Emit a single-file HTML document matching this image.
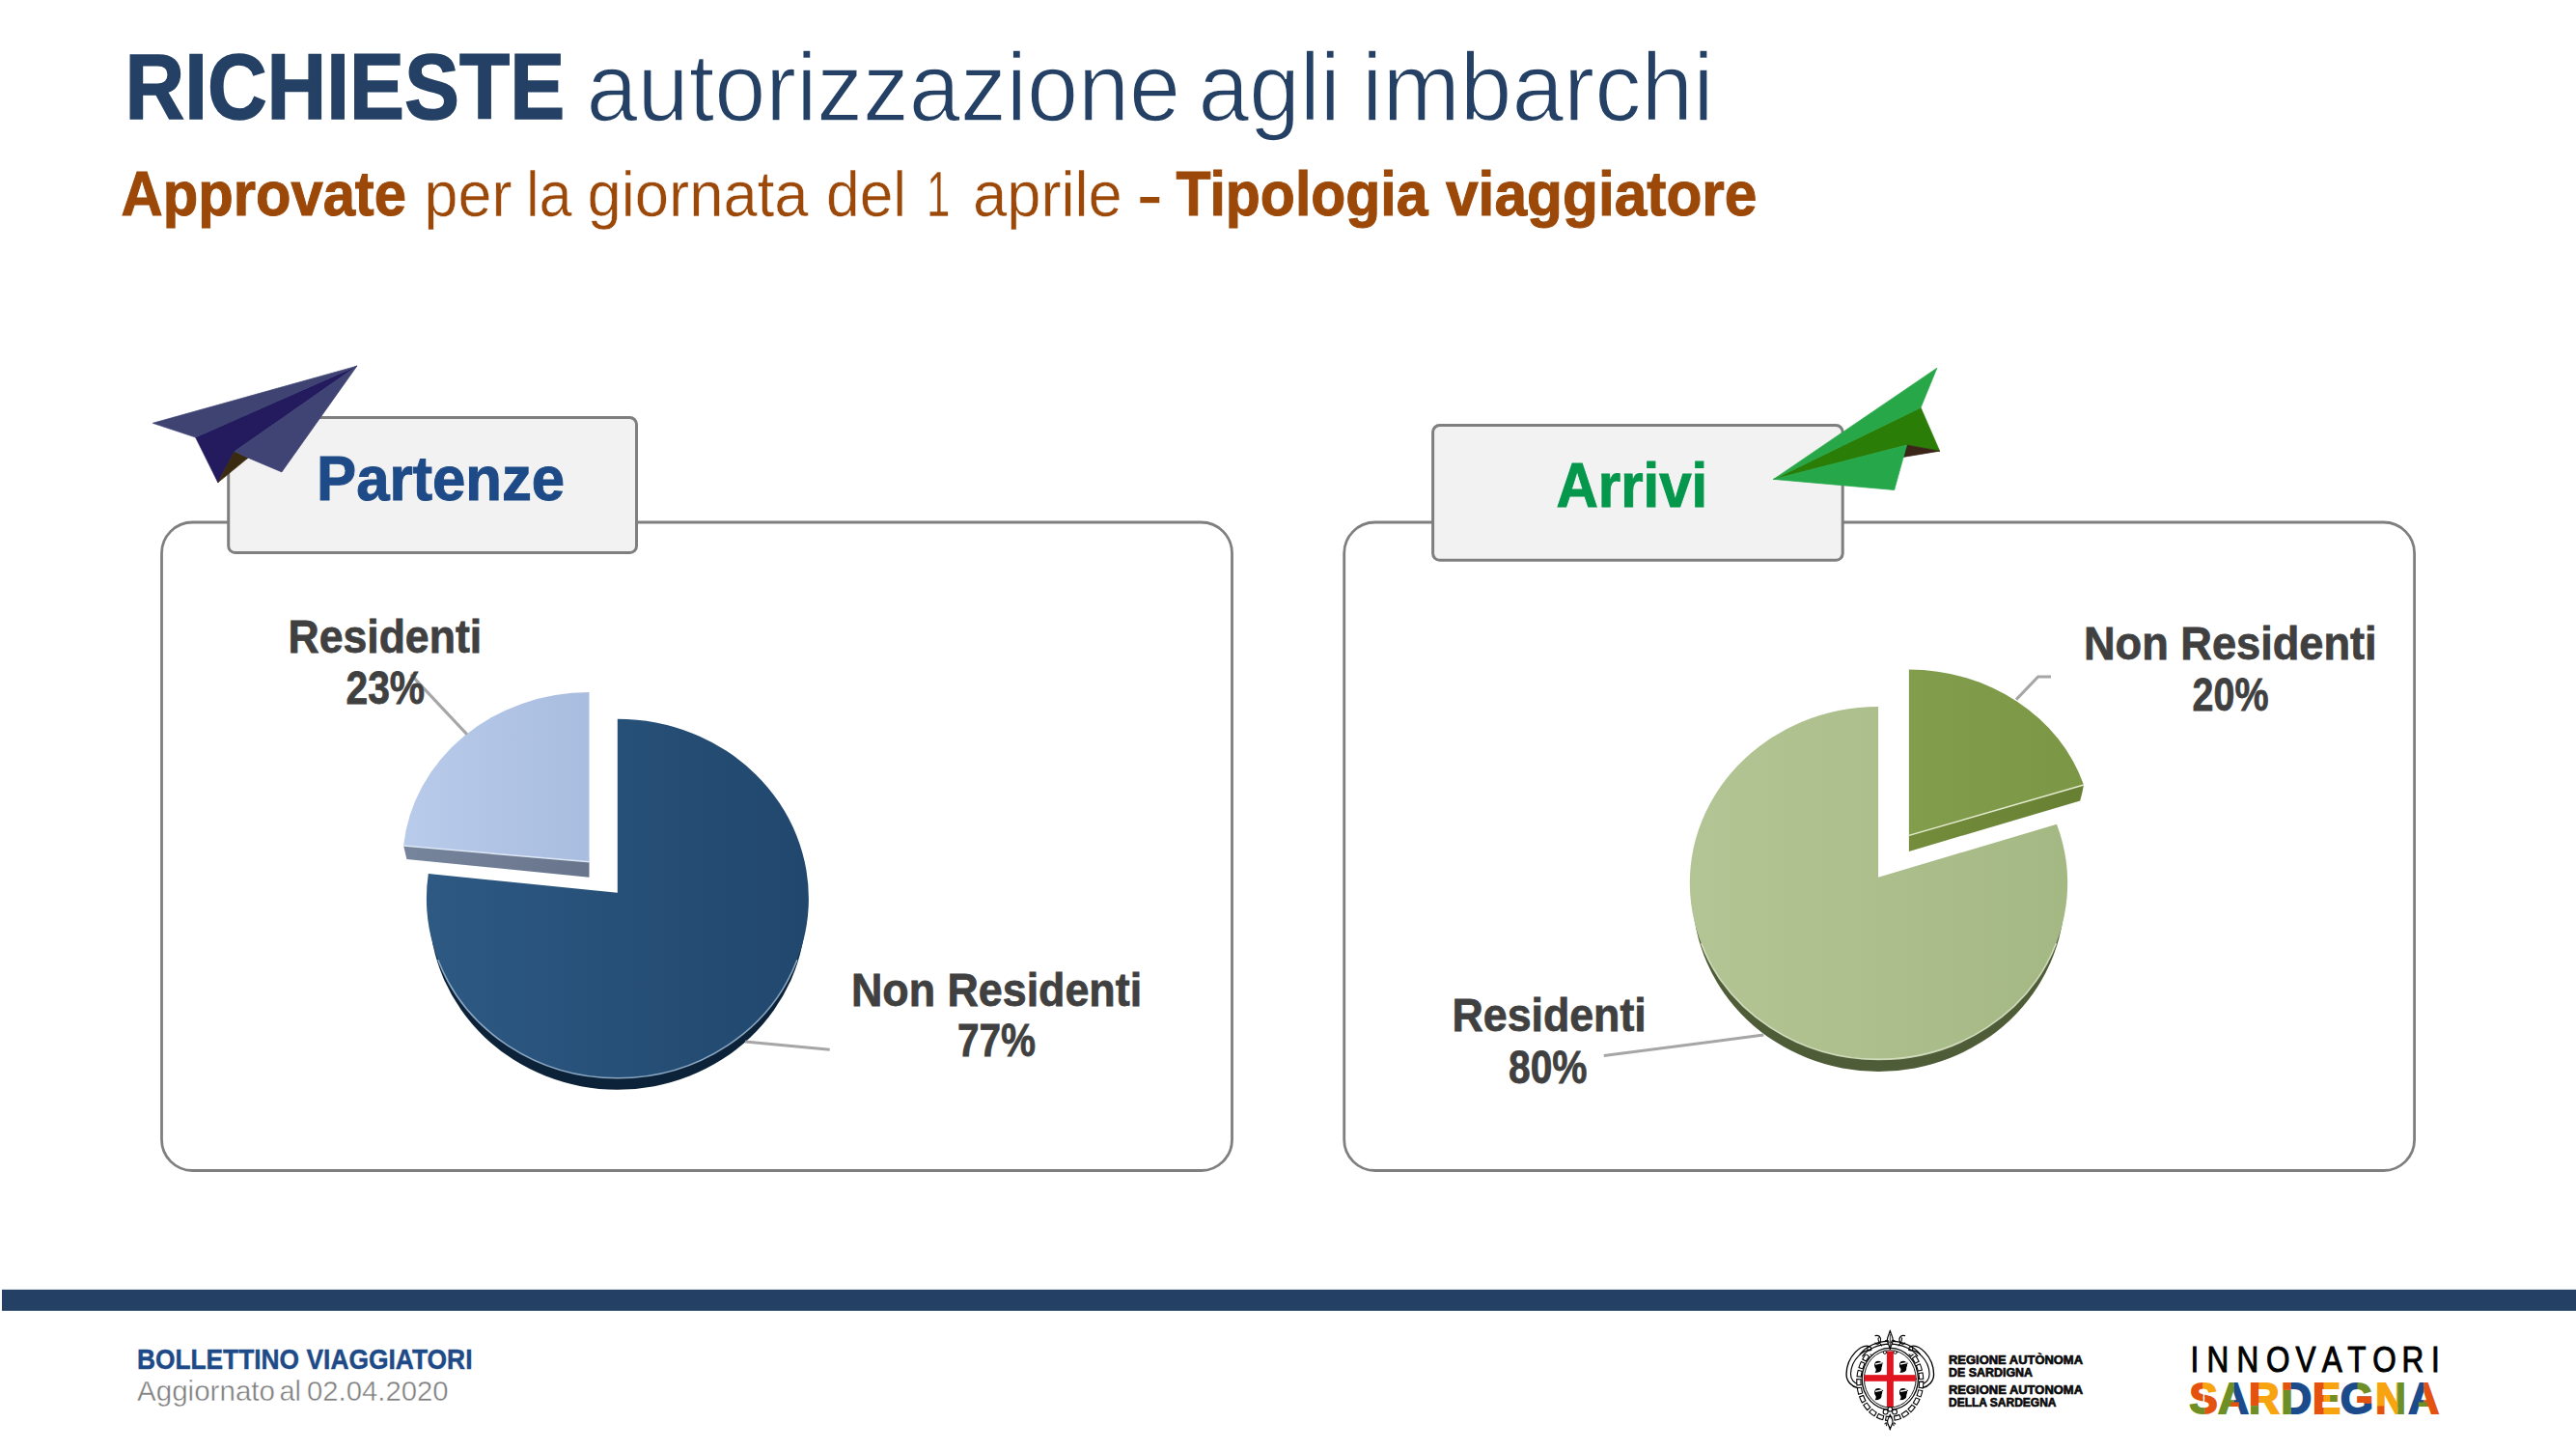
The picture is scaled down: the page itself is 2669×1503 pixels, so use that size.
<!DOCTYPE html>
<html lang="it"><head><meta charset="utf-8"><title>Richieste autorizzazione agli imbarchi</title>
<style>html,body{margin:0;padding:0;background:#fff}body{width:2669px;height:1503px;overflow:hidden;font-family:"Liberation Sans",sans-serif}svg{display:block}</style>
</head><body>
<svg width="2669" height="1503" viewBox="0 0 2669 1503" font-family="Liberation Sans, sans-serif"><rect width="2669" height="1503" fill="#fff"/>
<defs>
<linearGradient id="gDark" x1="0" x2="1" y1="0" y2="0"><stop offset="0" stop-color="#2d5983"/><stop offset="1" stop-color="#21476d"/></linearGradient>
<linearGradient id="gLight" x1="0" x2="1" y1="0" y2="0"><stop offset="0" stop-color="#b9cbea"/><stop offset="1" stop-color="#a9bde0"/></linearGradient>
<linearGradient id="gLightSide" x1="0" x2="1" y1="0" y2="0"><stop offset="0" stop-color="#76849c"/><stop offset="1" stop-color="#67748c"/></linearGradient>
<linearGradient id="gLG" x1="0" x2="1" y1="0" y2="0"><stop offset="0" stop-color="#b3c594"/><stop offset="1" stop-color="#a4b884"/></linearGradient>
<linearGradient id="gDG" x1="0" x2="1" y1="0" y2="0"><stop offset="0" stop-color="#829d4c"/><stop offset="1" stop-color="#7b9645"/></linearGradient>
<linearGradient id="gDGSide" x1="0" x2="1" y1="0" y2="0"><stop offset="0" stop-color="#748d3c"/><stop offset="1" stop-color="#677f32"/></linearGradient>
</defs>
<rect x="167.5" y="541" width="1109" height="671.5" rx="32" ry="32" fill="none" stroke="#7f7f7f" stroke-width="2.8"/>
<rect x="1392.7" y="541" width="1108.9" height="671.5" rx="32" ry="32" fill="none" stroke="#7f7f7f" stroke-width="2.8"/>
<rect x="236.7" y="432.6" width="422.8" height="140" rx="7" ry="7" fill="#f2f2f2" stroke="#7f7f7f" stroke-width="3"/>
<rect x="1484.6" y="440.6" width="424.6" height="139.7" rx="7" ry="7" fill="#f2f2f2" stroke="#7f7f7f" stroke-width="3"/>
<g>
<polygon points="202.6,453 369.8,379.2 243.1,467.5 225.8,499.8" fill="#231b5e" stroke="#231b5e" stroke-width="0.7" stroke-linejoin="round"/>
<polygon points="158.2,438.3 369.8,379.2 202.6,453" fill="#3e4372" stroke="#3e4372" stroke-width="0.7" stroke-linejoin="round"/>
<polygon points="243.1,467.5 257.1,474.2 225.8,499.8" fill="#3a2a10" stroke="#3a2a10" stroke-width="0.7" stroke-linejoin="round"/>
<polygon points="369.8,379.2 291.9,488.9 257.1,474.2 243.1,467.5" fill="#3f4474" stroke="#3f4474" stroke-width="0.7" stroke-linejoin="round"/>
</g>
<g>
<polygon points="1837.6,496.4 1990.1,422.2 2009.7,467.2 1975.6,461" fill="#2a7d07" stroke="#2a7d07" stroke-width="0.7" stroke-linejoin="round"/>
<polygon points="1975.6,461 2009.7,467.2 1972,473.4" fill="#3b2418" stroke="#3b2418" stroke-width="0.7" stroke-linejoin="round"/>
<polygon points="1837.6,496.4 2006.9,381.2 1990.1,422.2" fill="#27a748" stroke="#27a748" stroke-width="0.7" stroke-linejoin="round"/>
<polygon points="1837.6,496.4 1975.6,461 1962.7,507.5" fill="#26a84a" stroke="#26a84a" stroke-width="0.7" stroke-linejoin="round"/>
</g>
<clipPath id="clipL"><rect x="436.9" y="936.7" width="406" height="226"/></clipPath>
<ellipse cx="639.9" cy="942.7" rx="195" ry="186" fill="#0c2238" clip-path="url(#clipL)"/>
<path d="M639.8,924.8 L639.8,744.7 A198,186 0 1 1 443.8,905.0 Z" fill="url(#gDark)"/>
<path d="M453.8,994.3 A198,186 0 0 0 826.0,994.3" fill="none" stroke="#9db9d3" stroke-width="1.6" opacity="0.85"/>
<polygon points="418.1,876.1 610.5,892.8 610.5,908.7 421.4,890" fill="url(#gLightSide)"/>
<path d="M610.5,892.8 L610.5,717.1 A193.3,175.7 0 0 0 418.1,876.1 Z" fill="url(#gLight)"/>
<path d="M418.1,876.1 L610.5,892.8" stroke="#dde6f4" stroke-width="1.5" fill="none"/>
<path d="M425.6,698.6 L483.8,760.6" stroke="#a6a6a6" stroke-width="3" fill="none"/>
<path d="M772.2,1078.9 L859.7,1087.3" stroke="#a6a6a6" stroke-width="3" fill="none"/>
<clipPath id="clipR"><rect x="1745.8" y="920.95" width="401.4" height="222.7"/></clipPath>
<ellipse cx="1946.5" cy="927.2" rx="192.7" ry="182.7" fill="#4e5c37" clip-path="url(#clipR)"/>
<path d="M1946.1,908.7 L2131.0,853.8 A195.7,182.7 0 1 1 1946.1,732 Z" fill="url(#gLG)"/>
<path d="M1762.6,977.2 A195.7,182.7 0 0 0 2130.4,977.2" fill="none" stroke="#dfe8cc" stroke-width="1.6" opacity="0.85"/>
<path d="M1977.9,865.4 L2159,813 A190.2,171.8 0 0 1 2155.2,829.5 L1977.9,881.9 Z" fill="url(#gDGSide)"/>
<path d="M1977.9,865.4 L1977.9,693.6 A190.2,171.8 0 0 1 2159,813 Z" fill="url(#gDG)"/>
<path d="M1977.9,865.4 L2159,813" stroke="#e3ebcf" stroke-width="1.5" fill="none"/>
<path d="M2089,724.6 L2111.7,701 L2125,701" stroke="#a6a6a6" stroke-width="3" fill="none"/>
<path d="M1661.8,1093.5 L1827.3,1072" stroke="#a6a6a6" stroke-width="3" fill="none"/>
<rect x="2" y="1335.8" width="2667" height="22" fill="#244064"/>
<text><tspan x="129.5" y="122.94" font-size="95.9" font-weight="bold" fill="#244064" textLength="455.6" lengthAdjust="spacingAndGlyphs" stroke="#244064" stroke-width="1.53" stroke-linejoin="miter">RICHIESTE</tspan> <tspan x="607.5" y="124.5" font-size="100" font-weight="normal" fill="#244064" textLength="615.7" lengthAdjust="spacingAndGlyphs" stroke="#fff" stroke-width="1.6" stroke-linejoin="round">autorizzazione</tspan> <tspan x="1241.5" y="124.5" font-size="100" font-weight="normal" fill="#244064" textLength="147.4" lengthAdjust="spacingAndGlyphs" stroke="#fff" stroke-width="1.6" stroke-linejoin="round">agli</tspan> <tspan x="1411.0" y="124.5" font-size="100" font-weight="normal" fill="#244064" textLength="364.6" lengthAdjust="spacingAndGlyphs" stroke="#fff" stroke-width="1.6" stroke-linejoin="round">imbarchi</tspan></text>
<text><tspan x="125.5" y="223.28" font-size="64.8" font-weight="bold" fill="#9b4808" textLength="295.5" lengthAdjust="spacingAndGlyphs" stroke="#9b4808" stroke-width="1.04" stroke-linejoin="miter">Approvate</tspan> <tspan x="439.5" y="224.05" font-size="66.5" font-weight="normal" fill="#9b4808" textLength="90.9" lengthAdjust="spacingAndGlyphs" stroke="#fff" stroke-width="0.5" stroke-linejoin="round">per</tspan> <tspan x="545.0" y="224.05" font-size="66.5" font-weight="normal" fill="#9b4808" textLength="47.7" lengthAdjust="spacingAndGlyphs" stroke="#fff" stroke-width="0.5" stroke-linejoin="round">la</tspan> <tspan x="608.5" y="224.05" font-size="66.5" font-weight="normal" fill="#9b4808" textLength="229.1" lengthAdjust="spacingAndGlyphs" stroke="#fff" stroke-width="0.5" stroke-linejoin="round">giornata</tspan> <tspan x="856.0" y="224.05" font-size="66.5" font-weight="normal" fill="#9b4808" textLength="83.2" lengthAdjust="spacingAndGlyphs" stroke="#fff" stroke-width="0.5" stroke-linejoin="round">del</tspan> <tspan x="960.0" y="224.05" font-size="66.5" font-weight="normal" fill="#9b4808" textLength="24.3" lengthAdjust="spacingAndGlyphs" stroke="#fff" stroke-width="0.5" stroke-linejoin="round">1</tspan> <tspan x="1008.0" y="224.05" font-size="66.5" font-weight="normal" fill="#9b4808" textLength="154.8" lengthAdjust="spacingAndGlyphs" stroke="#fff" stroke-width="0.5" stroke-linejoin="round">aprile</tspan> <tspan x="1177.0" y="223.9" font-size="64.8" font-weight="bold" fill="#9b4808" textLength="28.7" lengthAdjust="spacingAndGlyphs" stroke="#fff" stroke-width="1.4" stroke-linejoin="round">-</tspan> <tspan x="1218.5" y="223.28" font-size="64.8" font-weight="bold" fill="#9b4808" textLength="261.0" lengthAdjust="spacingAndGlyphs" stroke="#9b4808" stroke-width="1.04" stroke-linejoin="miter">Tipologia</tspan> <tspan x="1498.0" y="223.28" font-size="64.8" font-weight="bold" fill="#9b4808" textLength="322.5" lengthAdjust="spacingAndGlyphs" stroke="#9b4808" stroke-width="1.04" stroke-linejoin="miter">viaggiatore</tspan></text>
<text><tspan x="328.0" y="518.49" font-size="64.5" font-weight="bold" fill="#1e4b87" textLength="257.1" lengthAdjust="spacingAndGlyphs" stroke="#1e4b87" stroke-width="1.03" stroke-linejoin="miter">Partenze</tspan></text>
<text><tspan x="1612.5" y="525.38" font-size="65.3" font-weight="bold" fill="#05974c" textLength="156.7" lengthAdjust="spacingAndGlyphs" stroke="#05974c" stroke-width="1.04" stroke-linejoin="miter">Arrivi</tspan></text>
<text><tspan x="298.5" y="676.42" font-size="47.6" font-weight="bold" fill="#404040" textLength="200.6" lengthAdjust="spacingAndGlyphs" stroke="#404040" stroke-width="0.76" stroke-linejoin="miter">Residenti</tspan> <tspan x="358.5" y="728.52" font-size="47.6" font-weight="bold" fill="#404040" textLength="81.6" lengthAdjust="spacingAndGlyphs" stroke="#404040" stroke-width="0.76" stroke-linejoin="miter">23%</tspan></text>
<text><tspan x="882.0" y="1042.32" font-size="47.6" font-weight="bold" fill="#404040" textLength="301.1" lengthAdjust="spacingAndGlyphs" stroke="#404040" stroke-width="0.76" stroke-linejoin="miter">Non Residenti</tspan> <tspan x="992.0" y="1094.22" font-size="47.6" font-weight="bold" fill="#404040" textLength="81.1" lengthAdjust="spacingAndGlyphs" stroke="#404040" stroke-width="0.76" stroke-linejoin="miter">77%</tspan></text>
<text><tspan x="2159.0" y="683.22" font-size="47.6" font-weight="bold" fill="#404040" textLength="303.6" lengthAdjust="spacingAndGlyphs" stroke="#404040" stroke-width="0.76" stroke-linejoin="miter">Non Residenti</tspan> <tspan x="2271.5" y="735.72" font-size="47.6" font-weight="bold" fill="#404040" textLength="79.0" lengthAdjust="spacingAndGlyphs" stroke="#404040" stroke-width="0.76" stroke-linejoin="miter">20%</tspan></text>
<text><tspan x="1504.5" y="1068.02" font-size="47.6" font-weight="bold" fill="#404040" textLength="201.2" lengthAdjust="spacingAndGlyphs" stroke="#404040" stroke-width="0.76" stroke-linejoin="miter">Residenti</tspan> <tspan x="1563.0" y="1121.82" font-size="47.6" font-weight="bold" fill="#404040" textLength="81.5" lengthAdjust="spacingAndGlyphs" stroke="#404040" stroke-width="0.76" stroke-linejoin="miter">80%</tspan></text>
<text><tspan x="142.0" y="1418.37" font-size="28.7" font-weight="bold" fill="#1e4b87" textLength="168.0" lengthAdjust="spacingAndGlyphs" stroke="#1e4b87" stroke-width="0.46" stroke-linejoin="miter">BOLLETTINO</tspan> <tspan x="317.5" y="1418.37" font-size="28.7" font-weight="bold" fill="#1e4b87" textLength="172.0" lengthAdjust="spacingAndGlyphs" stroke="#1e4b87" stroke-width="0.46" stroke-linejoin="miter">VIAGGIATORI</tspan></text>
<text><tspan x="142.0" y="1451.3" font-size="29.0" font-weight="normal" fill="#7f7f7f" textLength="143.0" lengthAdjust="spacingAndGlyphs" stroke="#fff" stroke-width="0.4" stroke-linejoin="round">Aggiornato</tspan> <tspan x="289.5" y="1451.3" font-size="29.0" font-weight="normal" fill="#7f7f7f" textLength="22.5" lengthAdjust="spacingAndGlyphs" stroke="#fff" stroke-width="0.4" stroke-linejoin="round">al</tspan> <tspan x="318.0" y="1451.3" font-size="29.0" font-weight="normal" fill="#7f7f7f" textLength="146.6" lengthAdjust="spacingAndGlyphs" stroke="#fff" stroke-width="0.4" stroke-linejoin="round">02.04.2020</tspan></text>
<text><tspan x="2019.0" y="1413.27" font-size="12.1" font-weight="bold" fill="#0a0a0a" textLength="139.0" lengthAdjust="spacingAndGlyphs" stroke="#0a0a0a" stroke-width="0.65" stroke-linejoin="miter">REGIONE AUTÒNOMA</tspan> <tspan x="2019.0" y="1426.08" font-size="12.1" font-weight="bold" fill="#0a0a0a" textLength="87.0" lengthAdjust="spacingAndGlyphs" stroke="#0a0a0a" stroke-width="0.65" stroke-linejoin="miter">DE SARDIGNA</tspan></text>
<text><tspan x="2019.0" y="1444.38" font-size="12.1" font-weight="bold" fill="#0a0a0a" textLength="139.0" lengthAdjust="spacingAndGlyphs" stroke="#0a0a0a" stroke-width="0.65" stroke-linejoin="miter">REGIONE AUTONOMA</tspan> <tspan x="2019.0" y="1457.08" font-size="12.1" font-weight="bold" fill="#0a0a0a" textLength="111.5" lengthAdjust="spacingAndGlyphs" stroke="#0a0a0a" stroke-width="0.65" stroke-linejoin="miter">DELLA SARDEGNA</tspan></text>
<g transform="translate(1900,1370) scale(0.082713)" fill="none" stroke="#000" stroke-linecap="round" stroke-linejoin="round">
<g >
<path d="M455 300 C 350 255, 165 420, 158 640 C 154 735, 225 800, 300 818" stroke-width="16.2"/>
<path d="M470 345 C 380 330, 218 455, 212 640 C 209 712, 258 762, 312 772" stroke-width="13.8"/>
<path d="M520 165 C 560 150, 600 185, 585 235 C 575 270, 535 280, 520 255" stroke-width="13.8"/>
<path d="M600 290 C 560 240, 545 215, 560 190" stroke-width="12.5"/>
<circle cx="445" cy="325" r="24" stroke-width="12.5"/>
</g>
<g transform="translate(1410,0) scale(-1,1)">
<path d="M455 300 C 350 255, 165 420, 158 640 C 154 735, 225 800, 300 818" stroke-width="16.2"/>
<path d="M470 345 C 380 330, 218 455, 212 640 C 209 712, 258 762, 312 772" stroke-width="13.8"/>
<path d="M520 165 C 560 150, 600 185, 585 235 C 575 270, 535 280, 520 255" stroke-width="13.8"/>
<path d="M600 290 C 560 240, 545 215, 560 190" stroke-width="12.5"/>
<circle cx="445" cy="325" r="24" stroke-width="12.5"/>
</g>
<clipPath id="chainclip"><rect x="0" y="395" width="1451" height="1100"/></clipPath><g clip-path="url(#chainclip)">
<ellipse cx="705" cy="735" rx="392" ry="468" stroke="#000" stroke-width="64" stroke-dasharray="88 20" stroke-linecap="butt"/>
<ellipse cx="705" cy="735" rx="392" ry="468" stroke="#fff" stroke-width="38" stroke-dasharray="62 46" stroke-dashoffset="-13" stroke-linecap="butt"/>
</g>
<path d="M360 420 C 420 330, 560 270, 705 268 C 850 270, 990 330, 1050 420" stroke-width="15.0"/>
<path d="M330 395 C 400 300, 540 232, 705 230 C 870 232, 1010 300, 1080 395" stroke-width="15.0"/>
<ellipse cx="705" cy="705" rx="352" ry="385" fill="#fff" stroke="#000" stroke-width="15.0"/>
<ellipse cx="705" cy="705" rx="325" ry="358" fill="#fff" stroke="#000" stroke-width="11.2"/>
<rect x="664" y="358" width="84" height="695" fill="#e0151f" stroke="none"/>
<rect x="382" y="655" width="645" height="80" fill="#e0151f" stroke="none"/>
<g transform="translate(560,548)" stroke="none">
<path d="M-30 -62 C 5 -80, 45 -60, 48 -25 C 50 0, 35 10, 38 30 C 40 50, 20 72, -5 76 L -45 80 C -30 55, -25 40, -40 20 C -55 0, -55 -45, -30 -62 Z" fill="#000"/>
<path d="M-38 -38 L 40 -52 L 44 -36 L -40 -20 Z" fill="#fff"/>
<path d="M40 -50 L 62 -40 L 50 -30 Z" fill="#000"/>
</g>
<g transform="translate(872,548)" stroke="none">
<path d="M-30 -62 C 5 -80, 45 -60, 48 -25 C 50 0, 35 10, 38 30 C 40 50, 20 72, -5 76 L -45 80 C -30 55, -25 40, -40 20 C -55 0, -55 -45, -30 -62 Z" fill="#000"/>
<path d="M-38 -38 L 40 -52 L 44 -36 L -40 -20 Z" fill="#fff"/>
<path d="M40 -50 L 62 -40 L 50 -30 Z" fill="#000"/>
</g>
<g transform="translate(560,890)" stroke="none">
<path d="M-30 -62 C 5 -80, 45 -60, 48 -25 C 50 0, 35 10, 38 30 C 40 50, 20 72, -5 76 L -45 80 C -30 55, -25 40, -40 20 C -55 0, -55 -45, -30 -62 Z" fill="#000"/>
<path d="M-38 -38 L 40 -52 L 44 -36 L -40 -20 Z" fill="#fff"/>
<path d="M40 -50 L 62 -40 L 50 -30 Z" fill="#000"/>
</g>
<g transform="translate(872,890)" stroke="none">
<path d="M-30 -62 C 5 -80, 45 -60, 48 -25 C 50 0, 35 10, 38 30 C 40 50, 20 72, -5 76 L -45 80 C -30 55, -25 40, -40 20 C -55 0, -55 -45, -30 -62 Z" fill="#000"/>
<path d="M-38 -38 L 40 -52 L 44 -36 L -40 -20 Z" fill="#fff"/>
<path d="M40 -50 L 62 -40 L 50 -30 Z" fill="#000"/>
</g>
<path d="M705 98 C 715 150, 745 180, 740 225 C 735 265, 712 290, 705 335 C 698 290, 675 265, 670 225 C 665 180, 695 150, 705 98 Z" fill="#fff" stroke-width="13.8"/>
<path d="M705 150 L705 330" stroke-width="10.0"/>
<path d="M640 240 C 650 210, 690 215, 690 250 M770 240 C 760 210, 720 215, 720 250" stroke-width="12.5"/>
<circle cx="640" cy="372" r="20" fill="#fff" stroke-width="11.2"/><circle cx="770" cy="372" r="20" fill="#fff" stroke-width="11.2"/>
<path d="M705 1340 C 700 1295, 668 1275, 672 1235 C 676 1200, 700 1185, 705 1150 C 710 1185, 734 1200, 738 1235 C 742 1275, 710 1295, 705 1340 Z" fill="#fff" stroke-width="13.8"/>
<circle cx="648" cy="1118" r="30" fill="#fff" stroke-width="12.5"/><circle cx="762" cy="1118" r="30" fill="#fff" stroke-width="12.5"/>
<circle cx="705" cy="1085" r="28" fill="#fff" stroke-width="12.5"/>
<path d="M640 1270 C 655 1240, 670 1260, 660 1290 M770 1270 C 755 1240, 740 1260, 750 1290" stroke-width="12.5"/>
</g>
<defs><pattern id="patch" patternUnits="userSpaceOnUse" x="0" y="0" width="2669" height="1503"><rect x="2267.3" y="1430.9" width="15.3" height="36.2" fill="#e4520f"/><rect x="2282.5" y="1430.9" width="15.0" height="11.3" fill="#f8a310"/><rect x="2284.2" y="1442.2" width="13.3" height="24.9" fill="#e4520f"/><rect x="2267.3" y="1453.0" width="17.0" height="14.1" fill="#6e8f25"/><rect x="2297.5" y="1430.9" width="17.2" height="36.2" fill="#6e8f25"/><rect x="2314.7" y="1430.9" width="16.7" height="36.2" fill="#1b4b8b"/><rect x="2311.3" y="1452.4" width="8.5" height="6.5" fill="#e4520f"/><rect x="2331.4" y="1430.9" width="9.3" height="25.1" fill="#e4520f"/><rect x="2331.4" y="1456.1" width="9.3" height="11.0" fill="#6e8f25"/><rect x="2340.7" y="1430.9" width="22.0" height="36.2" fill="#f8a310"/><rect x="2362.8" y="1430.9" width="11.0" height="9.0" fill="#e4520f"/><rect x="2362.8" y="1440.0" width="11.0" height="27.1" fill="#6e8f25"/><rect x="2373.8" y="1430.9" width="22.9" height="36.2" fill="#1b4b8b"/><rect x="2397.3" y="1430.9" width="10.5" height="36.2" fill="#e4520f"/><rect x="2407.7" y="1430.9" width="17.2" height="36.2" fill="#f8a310"/><rect x="2414.2" y="1445.1" width="7.3" height="7.6" fill="#6e8f25"/><rect x="2425.0" y="1430.9" width="33.9" height="36.2" fill="#1b4b8b"/><rect x="2442.5" y="1430.9" width="16.4" height="13.0" fill="#6e8f25"/><rect x="2441.9" y="1446.2" width="17.0" height="7.6" fill="#e4520f"/><rect x="2458.9" y="1430.9" width="25.4" height="36.2" fill="#f8a310"/><rect x="2458.9" y="1456.4" width="11.3" height="10.7" fill="#e4520f"/><rect x="2484.3" y="1430.9" width="9.7" height="36.2" fill="#6e8f25"/><rect x="2494.0" y="1430.9" width="17.4" height="36.2" fill="#1b4b8b"/><rect x="2511.4" y="1430.9" width="18.1" height="36.2" fill="#e4520f"/><rect x="2505.8" y="1452.4" width="9.0" height="7.1" fill="#6e8f25"/></pattern></defs>
<text transform="translate(2270,1421.4) scale(0.84,1)" x="-0.57 19.66 56.69 92.98 129.22 161.54 193.20 224.17 260.08 296.34" y="0" font-size="37.5" fill="#000" stroke="#000" stroke-width="1">INNOVATORI</text>
<text x="2268.38 2298.19 2330.05 2363.41 2395.95 2424.95 2461.32 2495.39" y="1463.9" font-size="43.6" font-weight="bold" fill="url(#patch)" stroke="url(#patch)" stroke-width="2" stroke-linejoin="miter">SARDEGNA</text></svg>
</body></html>
